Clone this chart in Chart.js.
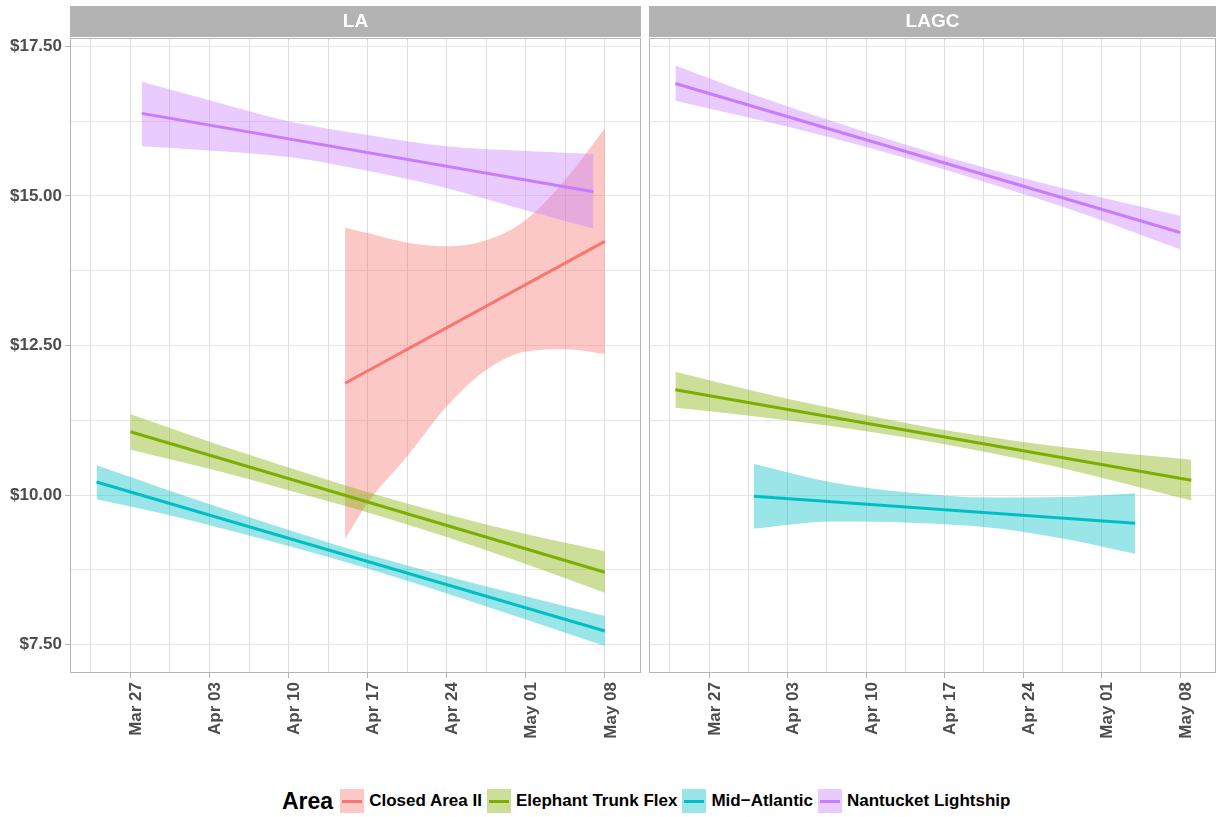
<!DOCTYPE html>
<html>
<head>
<meta charset="utf-8">
<script src="https://cdn.jsdelivr.net/npm/chart.js@4.4.1/dist/chart.umd.min.js"></script>
<style>
  body { margin: 0; background: #fff; }
  #wrap { position: relative; width: 1217px; height: 817px; background: #fff; font-family: 'Liberation Sans', Arial, sans-serif; }
  .panel { position: absolute; top: 0; height: 770px; }
  #legend { position: absolute; top: 789px; left: 282px; height: 24px; display: flex; align-items: center; font-weight: bold; color: #000; white-space: nowrap; }
  #legend .ttl { font-size: 23px; margin-right: 7px; }
  #legend .sw { position: relative; width: 24px; height: 24px; margin-right: 5px; }
  #legend .sw i { position: absolute; left: 2px; right: 2px; top: 10.5px; height: 3px; }
  #legend .lb { font-size: 17px; margin-right: 5px; }
</style>
</head>
<body>
<div id="wrap">
  <div class="panel" style="left:0;width:645px"><canvas id="la"></canvas></div>
  <div class="panel" style="left:645px;width:572px"><canvas id="lagc"></canvas></div>
  <div id="legend"></div>
</div>
<script>
// x values are days counted from Mar 27
const areas = ['Closed Area II', 'Elephant Trunk Flex', 'Mid\u2212Atlantic', 'Nantucket Lightship'];
const areaColors = ['#F8766D', '#7CAE00', '#00BFC4', '#C77CFF'];

const xMajorDays = [0, 7, 14, 21, 28, 35, 42];
const xMajorLabels = ['Mar 27', 'Apr 03', 'Apr 10', 'Apr 17', 'Apr 24', 'May 01', 'May 08'];
const xMinorDays = [-3.5, 3.5, 10.5, 17.5, 24.5, 31.5, 38.5];
const yMajor = [7.5, 10, 12.5, 15, 17.5];
const yMinor = [8.75, 11.25, 13.75, 16.25];

// LA panel
const laClosedDays = [19, 21, 24.5, 28, 31.5, 35, 38.5, 42];
const laClosedUpper = [14.47, 14.38, 14.22, 14.16, 14.26, 14.60, 15.27, 16.13];
const laClosedLower = [9.27, 9.87, 10.65, 11.48, 12.09, 12.40, 12.44, 12.36];
const laClosedFitDays = [19, 42];
const laClosedFit = [11.87, 14.24];

const laElephantDays = [0, 7, 14, 21, 28, 35, 42];
const laElephantUpper = [11.35, 10.89, 10.46, 10.05, 9.68, 9.35, 9.06];
const laElephantLower = [10.76, 10.44, 10.08, 9.71, 9.30, 8.85, 8.37];
const laElephantFitDays = [0, 42];
const laElephantFit = [11.06, 8.71];

const laMidDays = [-3, 4, 11, 18, 25, 32, 42];
const laMidUpper = [10.50, 10.04, 9.60, 9.18, 8.80, 8.45, 7.98];
const laMidLower = [9.93, 9.64, 9.30, 8.94, 8.54, 8.11, 7.48];
const laMidFitDays = [-3, 42];
const laMidFit = [10.22, 7.73];

const laNantDays = [1, 7, 14, 21, 28, 35, 41];
const laNantUpper = [16.91, 16.60, 16.25, 16.02, 15.83, 15.75, 15.70];
const laNantLower = [15.83, 15.76, 15.65, 15.42, 15.13, 14.76, 14.45];
const laNantFitDays = [1, 41];
const laNantFit = [16.38, 15.07];

// LAGC panel
const lagcElephantDays = [-3, 4, 11, 18, 25, 32, 43];
const lagcElephantUpper = [12.06, 11.74, 11.45, 11.19, 10.97, 10.79, 10.59];
const lagcElephantLower = [11.46, 11.32, 11.15, 10.95, 10.71, 10.43, 9.91];
const lagcElephantFitDays = [-3, 43];
const lagcElephantFit = [11.76, 10.25];

const lagcMidDays = [4, 11, 18, 25, 32, 38];
const lagcMidUpper = [10.52, 10.21, 10.04, 9.96, 9.97, 10.03];
const lagcMidLower = [9.44, 9.56, 9.54, 9.46, 9.26, 9.02];
const lagcMidFitDays = [4, 38];
const lagcMidFit = [9.98, 9.53];

const lagcNantDays = [-3, 4, 11, 18, 25, 32, 42];
const lagcNantUpper = [17.18, 16.69, 16.25, 15.83, 15.45, 15.11, 14.67];
const lagcNantLower = [16.59, 16.29, 15.97, 15.61, 15.21, 14.79, 14.11];
const lagcNantFitDays = [-3, 42];
const lagcNantFit = [16.88, 14.39];

const FONT = "'Liberation Sans', Arial, sans-serif";
Chart.defaults.font.family = FONT;

function alpha(hex, a) {
  const n = parseInt(hex.slice(1), 16);
  return 'rgba(' + (n >> 16) + ',' + ((n >> 8) & 255) + ',' + (n & 255) + ',' + a + ')';
}
function pts(xs, ys) {
  return xs.map((x, i) => ({ x: x, y: ys[i] }));
}

function buildDatasets(series) {
  const out = [];
  let order = 100;
  series.forEach(s => {
    const col = areaColors[s.area];
    out.push({
      data: pts(s.days, s.upper), borderColor: 'rgba(0,0,0,0)', borderWidth: 0,
      pointRadius: 0, fill: false, cubicInterpolationMode: 'monotone', order: order--
    });
    out.push({
      data: pts(s.days, s.lower), borderColor: 'rgba(0,0,0,0)', borderWidth: 0,
      pointRadius: 0, fill: '-1', backgroundColor: alpha(col, 0.4),
      cubicInterpolationMode: 'monotone', order: order--
    });
    out.push({
      data: pts(s.fitDays, s.fit), borderColor: col, borderWidth: 3,
      pointRadius: 0, fill: false, order: order--
    });
  });
  return out;
}

const stripPlugin = {
  id: 'strip',
  afterDraw(chart, args, opts) {
    const { ctx, chartArea: a } = chart;
    ctx.save();
    ctx.strokeStyle = '#b3b3b3';
    ctx.lineWidth = 1;
    ctx.strokeRect(a.left + 0.5, a.top + 0.5, a.right - a.left - 1, a.bottom - a.top - 1);
    ctx.fillStyle = '#b3b3b3';
    ctx.fillRect(a.left, 6, a.right - a.left, 31);
    ctx.fillStyle = '#ffffff';
    ctx.font = 'bold 19px ' + FONT;
    ctx.textAlign = 'center';
    ctx.textBaseline = 'middle';
    ctx.fillText(opts.text, (a.left + a.right) / 2, 22);
    ctx.restore();
  }
};

function makeChart(id, title, series, showY, padRight, yWidth) {
  return new Chart(document.getElementById(id), {
    type: 'line',
    data: { datasets: buildDatasets(series) },
    plugins: [stripPlugin],
    options: {
      responsive: true,
      maintainAspectRatio: false,
      animation: false,
      events: [],
      layout: { autoPadding: false, padding: { top: 38, right: padRight, left: 0, bottom: 0 } },
      plugins: { legend: { display: false }, tooltip: { enabled: false }, strip: { text: title } },
      scales: {
        x: {
          type: 'linear', min: -5.35, max: 45.2,
          afterBuildTicks: s => { s.ticks = xMajorDays.concat(xMinorDays).sort((a, b) => a - b).map(v => ({ value: v })); },
          afterFit: s => { s.height = 97; },
          border: { display: false },
          grid: {
            color: '#dedede', lineWidth: 1, tickLength: 5,
            tickColor: c => xMajorDays.includes(c.tick && c.tick.value) ? '#b3b3b3' : 'rgba(0,0,0,0)'
          },
          ticks: {
            autoSkip: false, minRotation: 90, maxRotation: 90, padding: 4, labelOffset: 6,
            color: '#4d4d4d', font: { size: 17, weight: 'bold' },
            callback: v => { const i = xMajorDays.indexOf(v); return i >= 0 ? xMajorLabels[i] : ''; }
          }
        },
        y: {
          type: 'linear', min: 7.027, max: 17.64,
          afterBuildTicks: s => { s.ticks = yMajor.concat(yMinor).sort((a, b) => a - b).map(v => ({ value: v })); },
          afterFit: s => { s.width = yWidth; },
          border: { display: false },
          grid: {
            color: '#e6e6e6', lineWidth: 1, tickLength: 5, drawTicks: showY,
            tickColor: c => yMajor.includes(c.tick && c.tick.value) ? '#b3b3b3' : 'rgba(0,0,0,0)'
          },
          ticks: {
            display: showY, padding: 3, color: '#4d4d4d', font: { size: 17, weight: 'bold' },
            callback: v => yMajor.includes(v) ? '$' + v.toFixed(2) : ''
          }
        }
      }
    }
  });
}

makeChart('la', 'LA', [
  { area: 0, days: laClosedDays, upper: laClosedUpper, lower: laClosedLower, fitDays: laClosedFitDays, fit: laClosedFit },
  { area: 1, days: laElephantDays, upper: laElephantUpper, lower: laElephantLower, fitDays: laElephantFitDays, fit: laElephantFit },
  { area: 2, days: laMidDays, upper: laMidUpper, lower: laMidLower, fitDays: laMidFitDays, fit: laMidFit },
  { area: 3, days: laNantDays, upper: laNantUpper, lower: laNantLower, fitDays: laNantFitDays, fit: laNantFit }
], true, 4, 70);

makeChart('lagc', 'LAGC', [
  { area: 1, days: lagcElephantDays, upper: lagcElephantUpper, lower: lagcElephantLower, fitDays: lagcElephantFitDays, fit: lagcElephantFit },
  { area: 2, days: lagcMidDays, upper: lagcMidUpper, lower: lagcMidLower, fitDays: lagcMidFitDays, fit: lagcMidFit },
  { area: 3, days: lagcNantDays, upper: lagcNantUpper, lower: lagcNantLower, fitDays: lagcNantFitDays, fit: lagcNantFit }
], false, 1, 4);

// legend
const legend = document.getElementById('legend');
let html = '<span class="ttl">Area</span>';
areas.forEach((a, i) => {
  html += '<span class="sw" style="background:' + alpha(areaColors[i], 0.4) + '"><i style="background:' + areaColors[i] + '"></i></span>';
  html += '<span class="lb">' + a + '</span>';
});
legend.innerHTML = html;
</script>
</body>
</html>
